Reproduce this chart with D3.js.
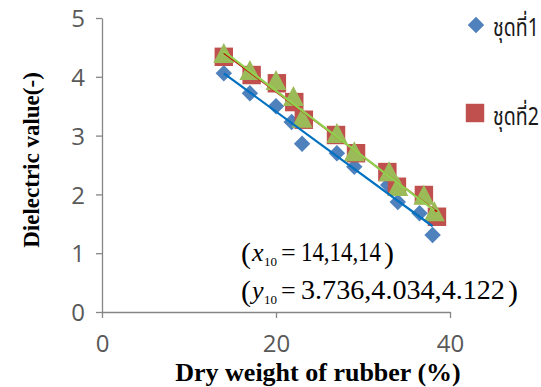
<!DOCTYPE html>
<html>
<head>
<meta charset="utf-8">
<script src="https://cdn.jsdelivr.net/npm/d3@7"></script>
<style>
  html, body { margin: 0; padding: 0; background: #fff; }
  svg { display: block; }
</style>
</head>
<body>
<div id="chart"></div>
<script>
// series 1 (blue diamonds)
const xs1 = [14, 17, 20, 21.8, 23, 27, 29, 32.9, 34, 36.5, 38];
const ys1 = [4.06, 3.72, 3.50, 3.23, 2.86, 2.70, 2.47, 2.16, 1.87, 1.68, 1.31];
// series 2 (red squares)
const xs2 = [14, 17.2, 20.1, 22.1, 23.2, 26.9, 29.2, 32.8, 33.9, 37, 38.5];
const ys2 = [4.34, 4.03, 3.89, 3.57, 3.27, 3.01, 2.70, 2.38, 2.13, 1.99, 1.62];
// series 3 (green triangles)
const xs3 = [14, 17, 20, 22, 23, 27, 29, 33, 34, 37, 38.2];
const ys3 = [4.37, 4.08, 3.91, 3.64, 3.27, 3.01, 2.70, 2.36, 2.11, 1.96, 1.68];

const xTicks = [0, 20, 40];
const yTicks = [0, 1, 2, 3, 4, 5];
const legendNames = ['ชุดที่1', 'ชุดที่2'];

const width = 541, height = 387;
const axisColor = '#868686';
const labelColor = '#595959';

const svg = d3.select('#chart').append('svg')
  .attr('width', width)
  .attr('height', height);

const x = d3.scaleLinear().domain([0, 40]).range([102, 450]);
const y = d3.scaleLinear().domain([0, 5]).range([312, 18]);

// scale a text horizontally so it spans `w` px, keeping its height
function fitWidth(sel, px, py, w) {
  const n = sel.node().getComputedTextLength();
  sel.attr('x', 0).attr('y', 0)
    .attr('transform', `translate(${px},${py}) scale(${w / n},1)`);
}

// axes
const xAxis = svg.append('g')
  .attr('transform', `translate(0,${y(0)})`)
  .call(d3.axisBottom(x).tickValues(xTicks).tickFormat(d3.format('d'))
    .tickSize(6).tickSizeOuter(0).tickPadding(17));
const yAxis = svg.append('g')
  .attr('transform', `translate(${x(0)},0)`)
  .call(d3.axisLeft(y).tickValues(yTicks).tickFormat(d3.format('d'))
    .tickSize(6).tickSizeOuter(0).tickPadding(11));

[xAxis, yAxis].forEach(g => {
  g.selectAll('.domain').attr('stroke', axisColor).attr('stroke-width', 1.3);
  g.selectAll('.tick line').attr('stroke', axisColor).attr('stroke-width', 1.3);
  g.selectAll('.tick text')
    .attr('fill', labelColor)
    .style('font-family', '"Open Sans", sans-serif')
    .style('font-size', '24px');
});
xAxis.selectAll('.tick text').attr('dy', '0.71em');
yAxis.selectAll('.tick text').attr('dy', '0.36em');

// axis titles
svg.append('text')
  .attr('x', 318).attr('y', 381)
  .attr('text-anchor', 'middle')
  .style('font-family', '"Liberation Serif", "Times New Roman", serif')
  .style('font-weight', 'bold')
  .style('font-size', '26px')
  .text('Dry weight of rubber  (%)');

svg.append('text')
  .attr('transform', 'translate(39,160) rotate(-90)')
  .attr('text-anchor', 'middle')
  .style('font-family', '"Liberation Serif", "Times New Roman", serif')
  .style('font-weight', 'bold')
  .style('font-size', '23px')
  .text('Dielectric value(-)');

// markers
const diamond = d3.symbol().type(d3.symbolSquare).size(135);
const square = d3.symbol().type(d3.symbolSquare).size(340);
const triangle = 'M0,-12L10.5,8L-10.5,8Z';

const pts = (xs, ys) => xs.map((v, i) => ({ x: v, y: ys[i] }));

svg.append('g').selectAll('path')
  .data(pts(xs1, ys1)).join('path')
  .attr('d', diamond)
  .attr('transform', d => `translate(${x(d.x)},${y(d.y)}) rotate(45)`)
  .attr('fill', '#4F81BD');

svg.append('g').selectAll('path')
  .data(pts(xs2, ys2)).join('path')
  .attr('d', square)
  .attr('transform', d => `translate(${x(d.x)},${y(d.y)})`)
  .attr('fill', '#C0504D');

svg.append('g').selectAll('path')
  .data(pts(xs3, ys3)).join('path')
  .attr('d', triangle)
  .attr('transform', d => `translate(${x(d.x)},${y(d.y)})`)
  .attr('fill', '#9BBB59');

// linear trendlines (least squares over each series)
function fit(xs, ys) {
  const mx = d3.mean(xs), my = d3.mean(ys);
  const b = d3.sum(xs, (v, i) => (v - mx) * (ys[i] - my)) / d3.sum(xs, v => (v - mx) ** 2);
  const a = my - b * mx;
  const [x0, x1] = d3.extent(xs);
  return [{ x: x0, y: a + b * x0 }, { x: x1, y: a + b * x1 }];
}
const line = d3.line().x(d => x(d.x)).y(d => y(d.y));
[[xs1, ys1, '#0070C0', 2.2], [xs2, ys2, '#C00000', 1.6], [xs3, ys3, '#92D050', 2.2]]
  .forEach(([xs, ys, c, w]) => {
    svg.append('path')
      .datum(fit(xs, ys))
      .attr('fill', 'none')
      .attr('stroke', c)
      .attr('stroke-width', w)
      .attr('d', line);
  });

// legend
const legend = svg.append('g');
legend.append('path').attr('d', diamond)
  .attr('transform', 'translate(476,25) rotate(45)').attr('fill', '#4F81BD');
legend.append('path').attr('d', square)
  .attr('transform', 'translate(475,113)').attr('fill', '#C0504D');
legendNames.forEach((name, i) => {
  const t = legend.append('text')
    .attr('fill', '#1a1a1a')
    .style('font-family', '"Noto Sans Thai", "Noto Sans", "DejaVu Sans", sans-serif')
    .style('font-size', '25px')
    .text(name);
  fitWidth(t, 493, 36 + i * 89, 46);
});

// annotation
const serif = '"Liberation Serif", "Times New Roman", serif';
function annot(base, v, nums, numLen) {
  const g = svg.append('g')
    .style('font-family', serif)
    .attr('fill', '#000');
  g.append('text').attr('x', 241).attr('y', base + 2).style('font-size', '30px').text('(');
  g.append('text').attr('x', 252).attr('y', base).style('font-size', '26px')
    .style('font-style', 'italic').text(v);
  g.append('text').attr('x', 264).attr('y', base + 5).style('font-size', '13px').text('10');
  g.append('text').attr('x', 281).attr('y', base).style('font-size', '26px').text('=');
  const t = g.append('text').style('font-size', '27px').text(nums);
  fitWidth(t, 301, base, numLen);
  g.append('text').attr('x', 301 + numLen + 3).attr('y', base + 2).style('font-size', '30px').text(')');
}
annot(261, 'x', '14,14,14', 80);
annot(299, 'y', '3.736,4.034,4.122', 204);
</script>
</body>
</html>
